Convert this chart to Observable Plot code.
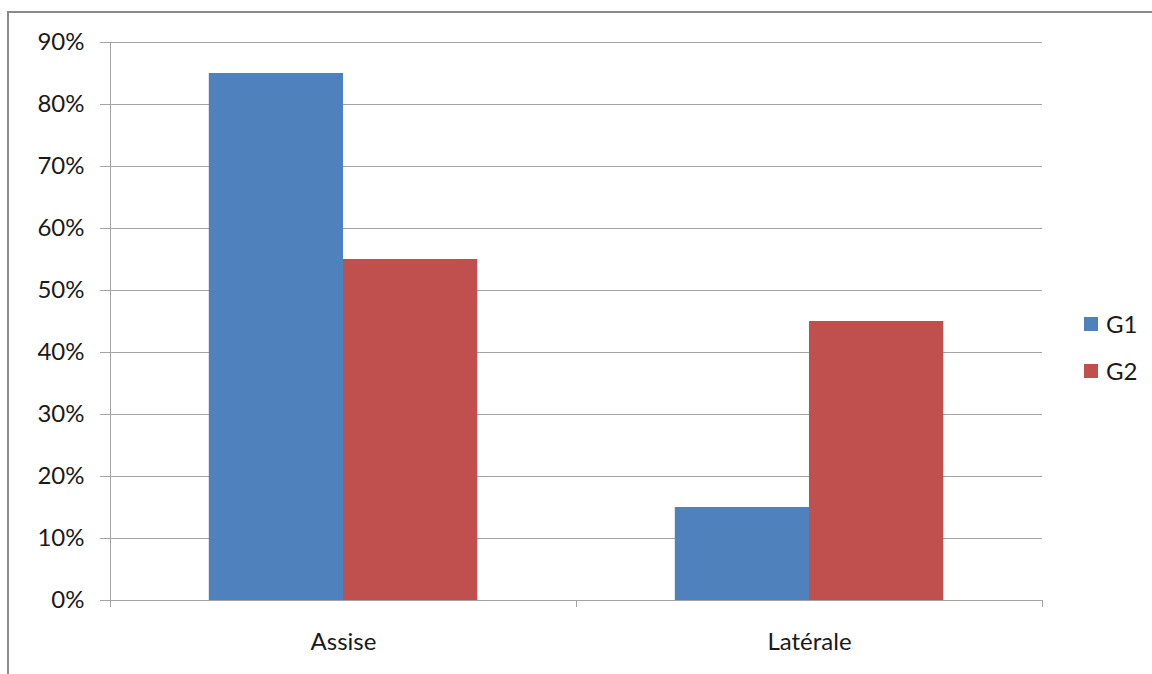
<!DOCTYPE html>
<html><head><meta charset="utf-8">
<script src="https://cdn.jsdelivr.net/npm/d3@7"></script>
<script src="https://cdn.jsdelivr.net/npm/@observablehq/plot@0.6"></script>
<style>
body{margin:0;background:#fff;overflow:hidden}
#wrap{position:relative;width:1152px;height:674px;overflow:hidden}
#border{position:absolute;left:7px;top:11px;width:1300px;height:800px;border:2px solid #8a8a8a;box-sizing:border-box}
#chart{position:absolute;left:0;top:0}
.leg{position:absolute;left:1084px;font-family:Lato,sans-serif;font-size:24px;color:#1a1a1a;display:flex;align-items:center;line-height:1}
.leg span.sw{display:inline-block;width:14px;height:14px;margin-right:8px}
</style></head>
<body><div id="wrap"><div id="border"></div><div id="chart"></div></div>
<script>
const categories = ["Assise", "Latérale"];
const groups = ["G1", "G2"];
const g1Values = [0.85, 0.15];
const g2Values = [0.55, 0.45];
const yTicks = [0, 0.1, 0.2, 0.3, 0.4, 0.5, 0.6, 0.7, 0.8, 0.9];
const colors = ["#4f81bd", "#c0504d"];

const rows = [];
categories.forEach((c, i) => {
  rows.push({category: c, group: "G1", value: g1Values[i]});
  rows.push({category: c, group: "G2", value: g2Values[i]});
});

const gridColor = "#a3a3a3";
const plot = Plot.plot({
  width: 1152, height: 674,
  marginLeft: 109, marginRight: 110, marginTop: 42, marginBottom: 74,
  style: {fontFamily: "Lato, sans-serif", fontSize: "24px", color: "#1a1a1a", background: "transparent", overflow: "visible"},
  fx: {domain: categories, padding: 0, label: null},
  x: {domain: groups, paddingInner: 0, paddingOuter: 0.736, axis: null, round: false},
  y: {domain: [0, 0.9], label: null},
  color: {domain: groups, range: colors},
  marks: [
    Plot.gridY(yTicks, {stroke: gridColor, strokeOpacity: 1, strokeWidth: 1}),
    Plot.barY(rows, {fx: "category", x: "group", y: "value", fill: "group"}),
    Plot.axisY(yTicks, {tickSize: 10, tickPadding: 16, stroke: gridColor, tickFormat: d3.format(".0%"), label: null, fill: "#1a1a1a"}),
    Plot.axisFx({anchor: "bottom", tickSize: 0, tickPadding: 32, label: null, fill: "#1a1a1a"})
  ]
});
document.getElementById("chart").appendChild(plot);

// axis line and category boundary ticks, from the library's scales
const fx = plot.scale("fx"), y = plot.scale("y");
const svg = d3.select(plot);
const y0 = y.apply(0), yTop = y.apply(0.9);
const left = fx.apply(categories[0]);
const edges = categories.map(c => fx.apply(c)).concat([fx.apply(categories[categories.length-1]) + fx.bandwidth]);
const g = svg.append("g").attr("stroke", gridColor).attr("shape-rendering", "crispEdges");
g.append("line").attr("x1", left).attr("x2", left).attr("y1", yTop).attr("y2", y0);
edges.forEach(x => g.append("line").attr("x1", x).attr("x2", x).attr("y1", y0).attr("y2", y0 + 7));

// legend
const legTops = [317, 364];
groups.forEach((gname, i) => {
  const d = document.createElement("div");
  d.className = "leg";
  d.style.top = (legTops[i] - 5) + "px";
  d.innerHTML = `<span class="sw" style="background:${colors[i]}"></span><span>${gname}</span>`;
  document.getElementById("wrap").appendChild(d);
});
</script>
</body></html>
